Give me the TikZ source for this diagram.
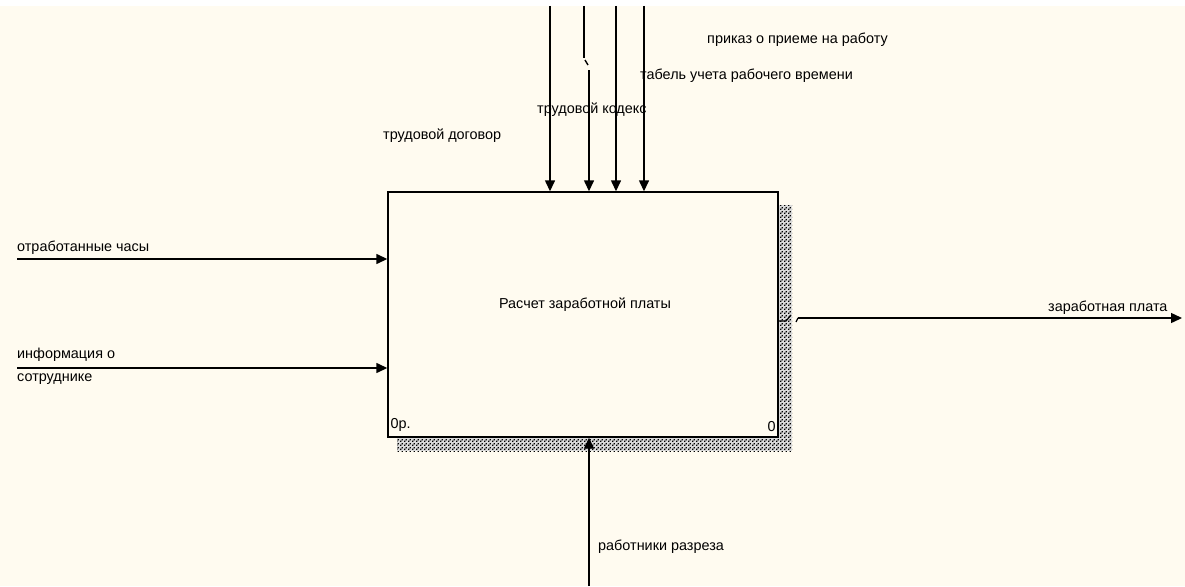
\documentclass[tikz,border=0pt]{standalone}
\usepackage{fontspec}
\setmainfont{Liberation Sans}
\usepackage{xcolor}
\usetikzlibrary{arrows.meta, positioning, patterns.meta, calc}
\definecolor{idefbg}{HTML}{FFFBF0}
\tikzdeclarepattern{
  name=idefdots,
  type=uncolored,
  bounding box={(0pt,0pt) and (4pt,4pt)},
  tile size={(4pt,4pt)},
  code={
    \pgfpathrectangle{\pgfpoint{0pt}{0pt}}{\pgfpoint{1.6pt}{1.6pt}}
    \pgfpathrectangle{\pgfpoint{2pt}{2pt}}{\pgfpoint{1.6pt}{1.6pt}}
    \pgfusepath{fill}
  }
}

\begin{document}
\begin{tikzpicture}[x=1pt, y=-1pt,
    lbl/.style={inner sep=0pt, font=\fontsize{14.4}{16}\selectfont},
    actbox/.style={draw, line width=1.4pt, fill=idefbg, minimum width=390pt,
                minimum height=245pt, inner sep=0pt},
    arr/.style={-{Triangle[length=11pt, width=10pt]}, line width=1.4pt}
]
\useasboundingbox (0,0) rectangle (1185,586);
\fill[idefbg] (0,0) rectangle (1185,586);
\fill[white] (0,0) rectangle (1185,6);
% shadow
\fill[black!15] (397,205) rectangle (792,451);
\fill[pattern=idefdots, pattern color=black] (397,205) rectangle (792,451);
\node[actbox] (calc) at (583,314.5) {};
\node[lbl] (title) at (585,305) {Расчет заработной платы};
\node[lbl, anchor=south west] (num) at ($(calc.south west)+(3,-6)$) {0р.};
\node[lbl, anchor=south east] (nodeno) at ($(calc.south east)+(-3,-6)$) {0};

% controls
\coordinate (c1) at (550,6);
\coordinate (c2) at (584,6);
\coordinate (c2b) at (589,70);
\coordinate (c3) at (616,6);
\coordinate (c4) at (644,6);
\draw[arr] (c1) -- (c1 |- calc.north);
\draw[line width=1.4pt] (c2) -- (584,58);
\draw[line width=1.4pt] (585,60) -- (588,65);
\draw[arr] (c2b) -- (c2b |- calc.north);
\draw[arr] (c3) -- (c3 |- calc.north);
\draw[arr] (c4) -- (c4 |- calc.north);
\node[lbl, anchor=west] (prikaz) at (707,40) {приказ о приеме на работу};
\node[lbl, anchor=west] (tabel) at (640,76) {табель учета рабочего времени};
\node[lbl, anchor=west] (kodeks) at (537,110) {трудовой кодекс};
\node[lbl, anchor=west] (dogovor) at (383,136) {трудовой договор};

% inputs
\coordinate (i1) at (17,259);
\coordinate (i2) at (17,368);
\draw[arr] (i1) -- (i1 -| calc.west);
\draw[arr] (i2) -- (i2 -| calc.west);
\node[lbl, anchor=west] (chasy) at (17,248) {отработанные часы};
\node[lbl, anchor=west, align=left, font=\fontsize{14.4}{23}\selectfont] (info) at (17,366.5) {информация о\\сотруднике};

% output
\coordinate (o1) at (798,318);
\coordinate (o2) at (1182,318);
\draw[line width=1.2pt] (calc.east |- 0,321) -- (786,321) -- (791,315);
\draw[line width=1.2pt] (796,322) -- (o1);
\draw[arr] (o1) -- (o2);
\node[lbl, anchor=west] (zp) at (1048,308) {заработная плата};

% mechanism
\coordinate (m1) at (589,586);
\draw[arr] (m1) -- (m1 |- calc.south);
\node[lbl, anchor=west] (rab) at (598,547) {работники разреза};
\end{tikzpicture}
\end{document}
